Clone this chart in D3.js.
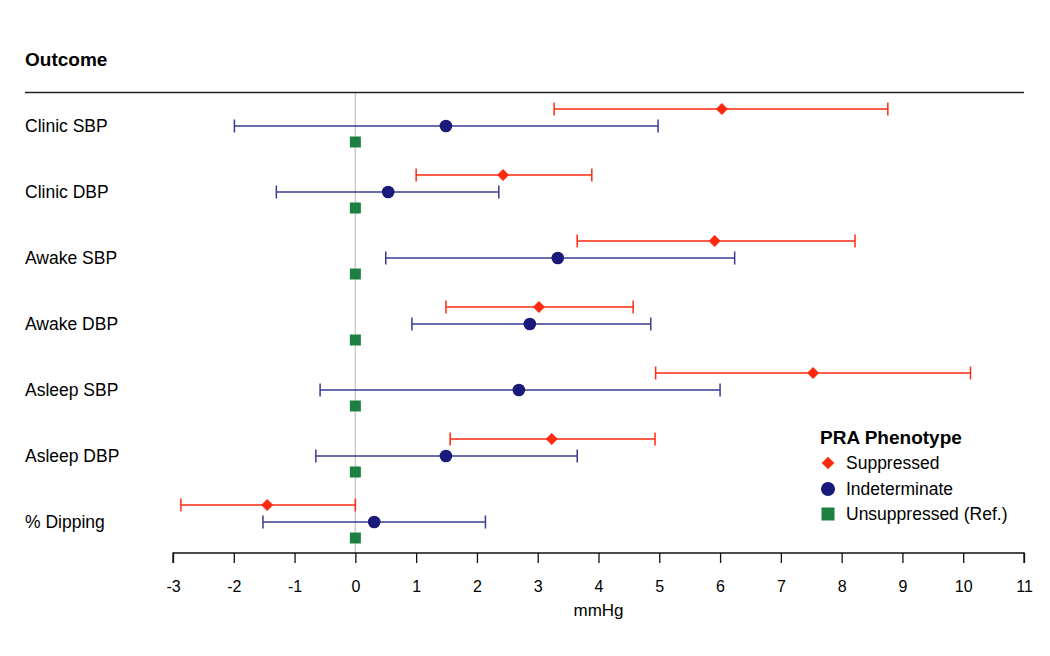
<!DOCTYPE html>
<html><head><meta charset="utf-8">
<script src="https://cdn.jsdelivr.net/npm/d3@7"></script>
<style>body{margin:0;background:#fff;} text{font-family:"Liberation Sans",Arial,sans-serif;}</style>
</head><body>
<svg id="c" width="1050" height="656"></svg>
<script>
const outcomes = ["Clinic SBP","Clinic DBP","Awake SBP","Awake DBP","Asleep SBP","Asleep DBP","% Dipping"];
const groups = ["Suppressed","Indeterminate","Unsuppressed (Ref.)"];
const suppEst = [6.03, 2.43, 5.91, 3.02, 7.53, 3.23, -1.45];
const suppLo  = [3.27, 1.00, 3.65, 1.49, 4.94, 1.56, -2.87];
const suppHi  = [8.76, 3.89, 8.22, 4.57, 10.12, 4.93, 0.0];
const indEst  = [1.49, 0.54, 3.33, 2.87, 2.69, 1.49, 0.31];
const indLo   = [-1.99, -1.30, 0.50, 0.93, -0.58, -0.65, -1.52];
const indHi   = [4.98, 2.36, 6.24, 4.86, 6.00, 3.65, 2.14];
const refEst  = [0, 0, 0, 0, 0, 0, 0];
const xTicks = [-3,-2,-1,0,1,2,3,4,5,6,7,8,9,10,11];

const svg = d3.select("#c");
const x = d3.scaleLinear().domain([-3, 11]).range([173, 1024]);
const yRow = d3.scaleBand().domain(outcomes).range([92, 554]).paddingInner(0).paddingOuter(0);
const offs = {"Suppressed": -17, "Indeterminate": 0, "Unsuppressed (Ref.)": 16};
const rowC = o => yRow(o) + yRow.bandwidth()/2 + 1;

const colors = {"Suppressed":"#ff2a10","Indeterminate":"#1a1a7a","Unsuppressed (Ref.)":"#1e8040"};
const lineColors = {"Suppressed":"#ff2a10","Indeterminate":"#3a3a95"};

// reference line at 0
svg.append("line").attr("x1", x(0)).attr("x2", x(0)).attr("y1", 92).attr("y2", 553)
  .attr("stroke", "#cccccc").attr("stroke-width", 1.5);

// header
svg.append("text").attr("x", 25).attr("y", 66).attr("font-size", 19).attr("font-weight", "bold").text("Outcome");
svg.append("line").attr("x1", 25).attr("x2", 1024).attr("y1", 92.5).attr("y2", 92.5).attr("stroke", "#222").attr("stroke-width", 1.3);

// labels
svg.selectAll("text.lab").data(outcomes).enter().append("text").attr("class","lab")
  .attr("x", 25).attr("y", d => rowC(d) + 6).attr("font-size", 17.5).text(d => d);

function drawCI(name, est, lo, hi, sym) {
  const data = outcomes.map((o, i) => ({o, est: est[i], lo: lo[i], hi: hi[i]}));
  const g = svg.append("g");
  const c = lineColors[name];
  data.forEach(d => {
    const yy = rowC(d.o) + offs[name];
    g.append("line").attr("x1", x(d.lo)).attr("x2", x(d.hi)).attr("y1", yy).attr("y2", yy).attr("stroke", c).attr("stroke-width", 1.5);
    [d.lo, d.hi].forEach(v => g.append("line").attr("x1", x(v)).attr("x2", x(v)).attr("y1", yy-6.5).attr("y2", yy+6.5).attr("stroke", c).attr("stroke-width", 1.5));
    g.append("path").attr("d", d3.symbol().type(sym.type).size(sym.size)())
      .attr("transform", `translate(${x(d.est)},${yy})${sym.rot ? " rotate(45)" : ""}`)
      .attr("fill", colors[name]);
  });
}
drawCI("Suppressed", suppEst, suppLo, suppHi, {type: d3.symbolSquare, size: 72, rot: true});
drawCI("Indeterminate", indEst, indLo, indHi, {type: d3.symbolCircle, size: 125});

// reference squares
svg.append("g").selectAll("rect").data(outcomes.map((o,i)=>({o, v: refEst[i]}))).enter().append("rect")
  .attr("x", d => x(d.v) - 5.5).attr("y", d => rowC(d.o) + offs["Unsuppressed (Ref.)"] - 5.5)
  .attr("width", 11).attr("height", 11).attr("fill", colors["Unsuppressed (Ref.)"]);

// axis
const axis = d3.axisBottom(x).tickValues(xTicks).tickSize(10).tickPadding(18).tickFormat(d => String(d));
const ag = svg.append("g").attr("transform", "translate(0,553)").call(axis);
ag.select(".domain").attr("stroke", "#111").attr("stroke-width", 1.3).attr("d", `M${x(-3)},10V0H${x(11)}V10`);
ag.selectAll(".tick line").attr("stroke", "#111").attr("stroke-width", 1.3);
ag.selectAll(".tick text").attr("font-size", 16).attr("fill", "#000").attr("font-family", "Liberation Sans, Arial, sans-serif");
svg.append("text").attr("x", x(4)).attr("y", 616).attr("text-anchor", "middle").attr("font-size", 17).text("mmHg");

// legend
const lg = svg.append("g").attr("transform", "translate(820,0)");
lg.append("text").attr("x", 0).attr("y", 444).attr("font-size", 19).attr("font-weight", "bold").text("PRA Phenotype");
const ly = [463, 489, 514];
groups.forEach((gname, i) => {
  let s;
  if (i === 0) s = lg.append("path").attr("d", d3.symbol().type(d3.symbolSquare).size(80)()).attr("transform", `translate(8,${ly[i]}) rotate(45)`);
  else if (i === 1) s = lg.append("circle").attr("cx", 8).attr("cy", ly[i]).attr("r", 7);
  else s = lg.append("rect").attr("x", 1.5).attr("y", ly[i]-6.5).attr("width", 13).attr("height", 13);
  s.attr("fill", colors[gname]);
  lg.append("text").attr("x", 26).attr("y", ly[i] + 6).attr("font-size", 17.5).text(gname);
});
</script>
</body></html>
